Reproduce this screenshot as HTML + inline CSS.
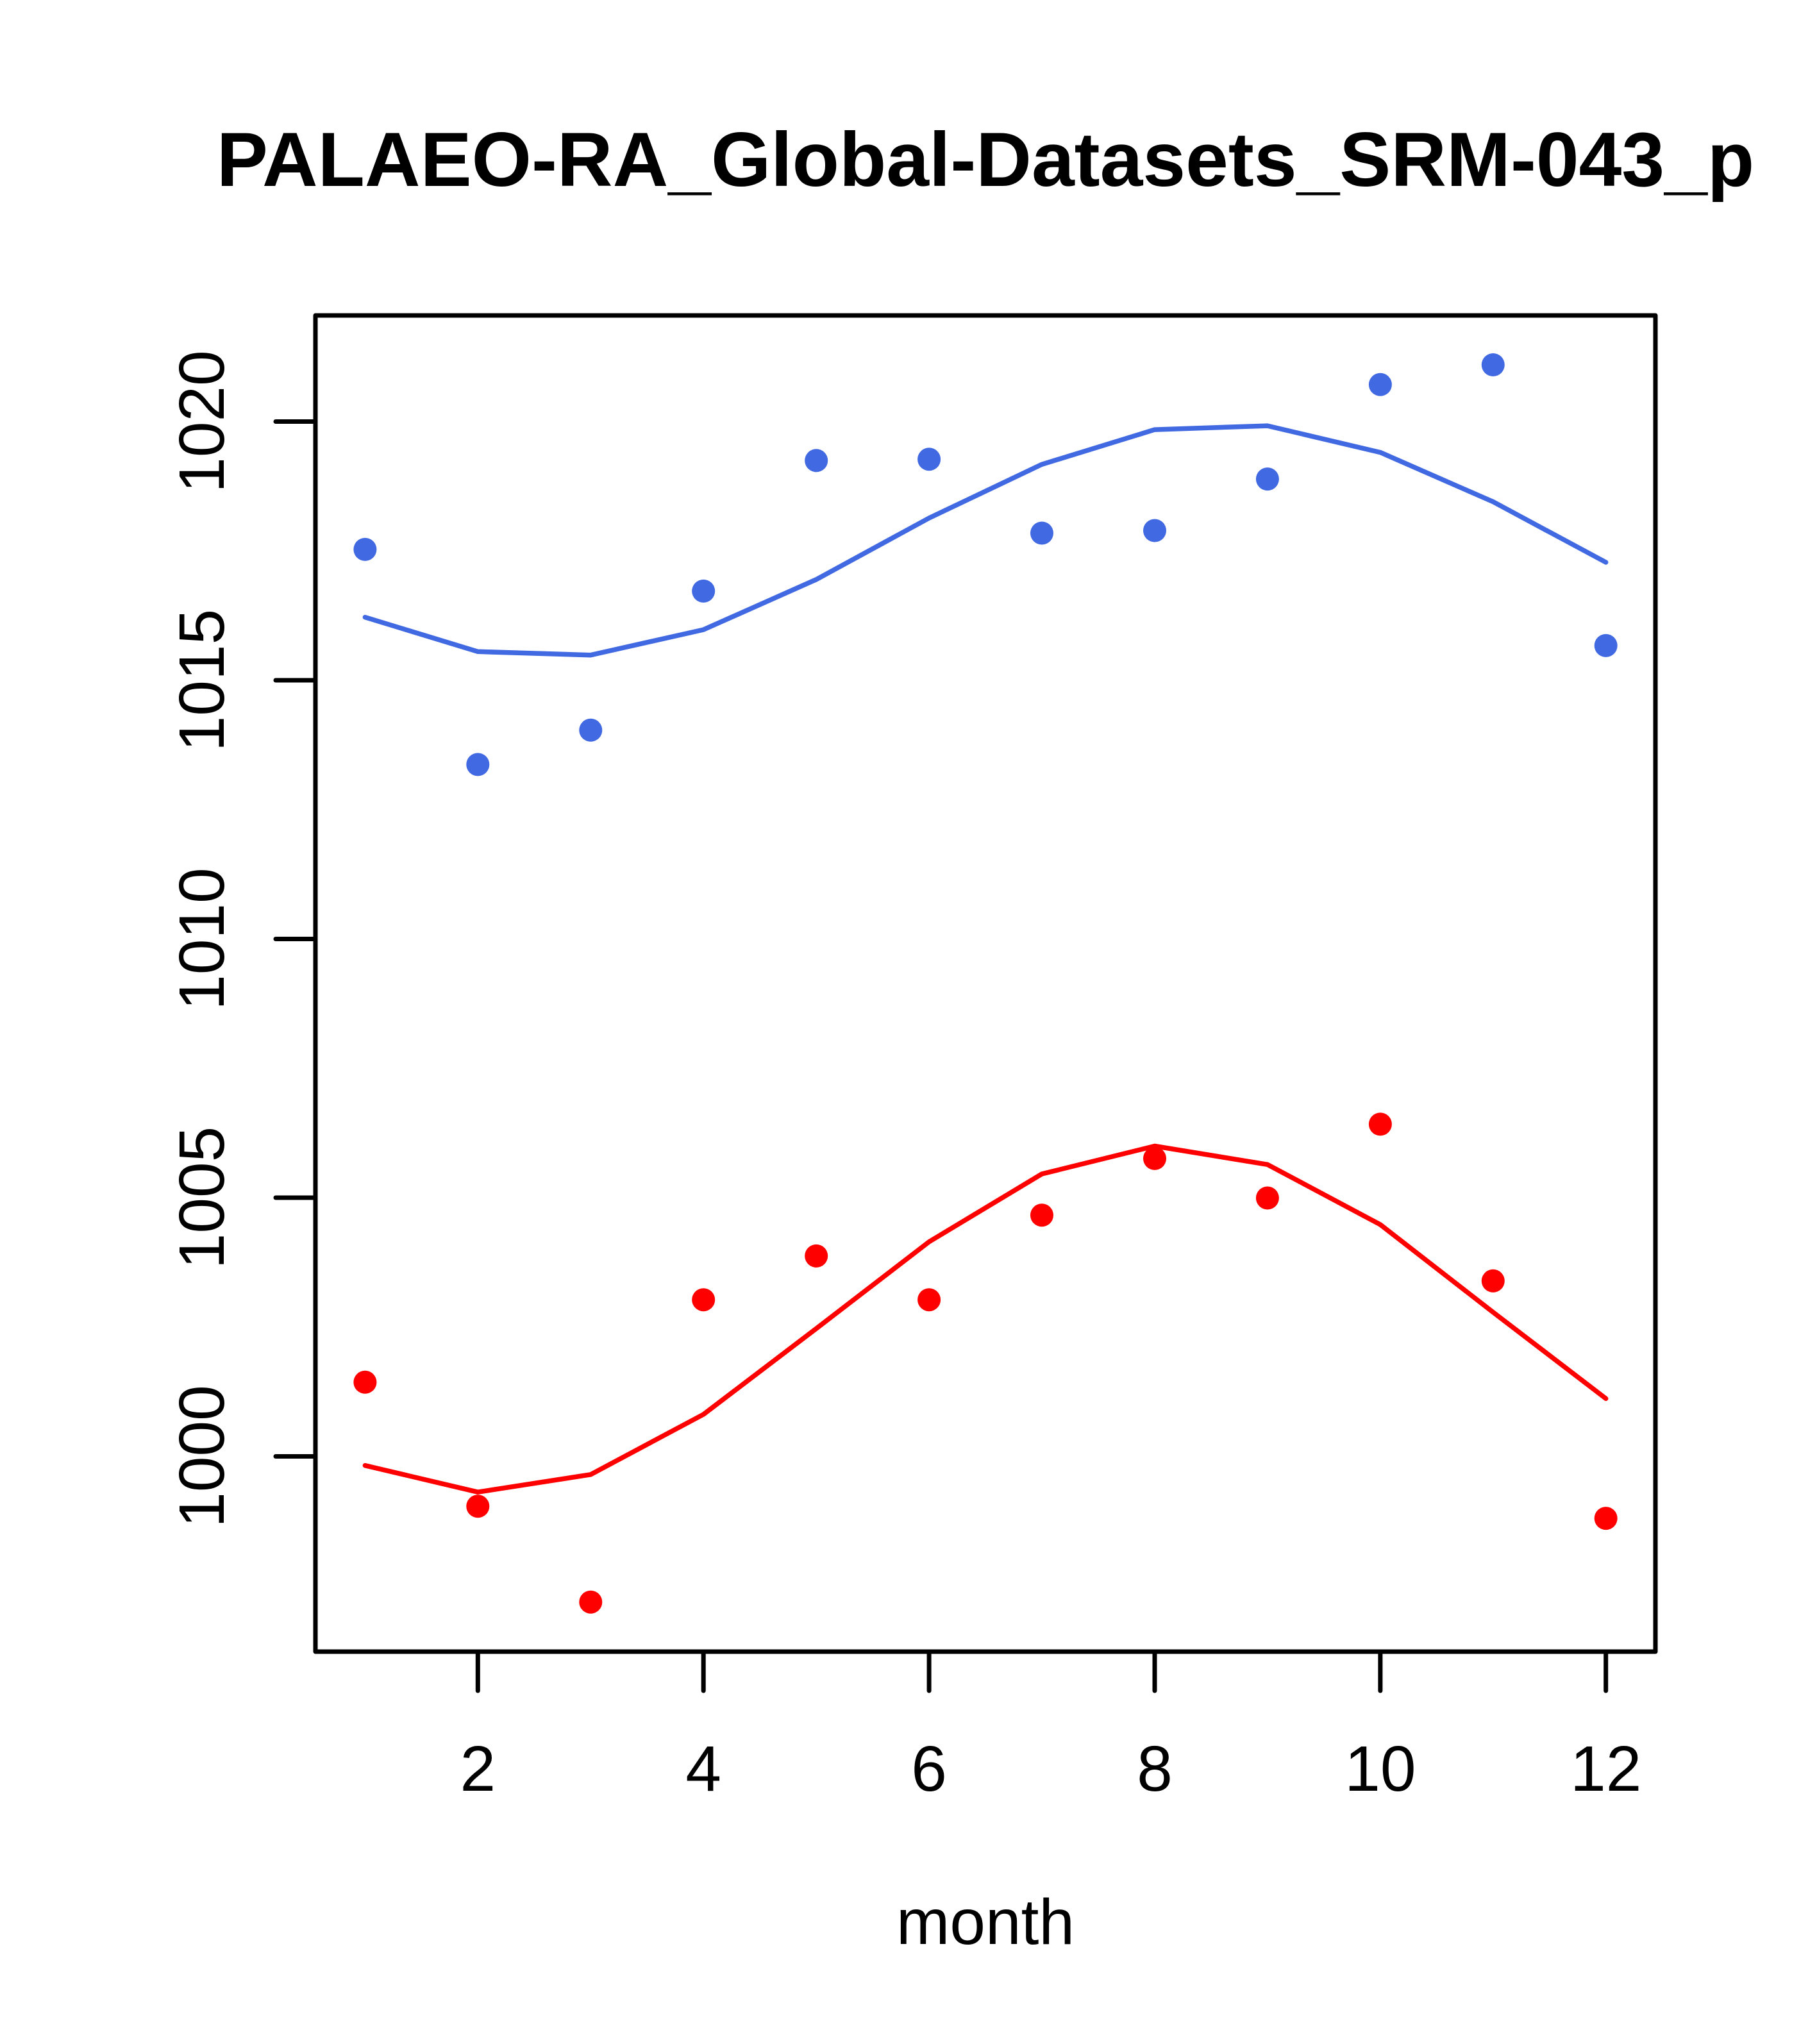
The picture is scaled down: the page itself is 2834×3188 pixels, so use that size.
<!DOCTYPE html>
<html>
<head>
<meta charset="utf-8">
<style>
  html, body { margin:0; padding:0; background:#fff; }
  svg { display:block; }
  text { font-family: "Liberation Sans", Arial, sans-serif; fill:#000; }
</style>
</head>
<body>
<svg width="2834" height="3188" viewBox="0 0 2834 3188" xmlns="http://www.w3.org/2000/svg">
  <rect x="0" y="0" width="2834" height="3188" fill="#fff"/>

  <!-- Title -->
  <text x="1537" y="290" font-size="120" font-weight="bold" text-anchor="middle">PALAEO-RA_Global-Datasets_SRM-043_p</text>

  <!-- Plot box -->
  <rect x="492" y="492" width="2090" height="2084" fill="none" stroke="#000" stroke-width="7" stroke-linejoin="round"/>

  <!-- X axis ticks -->
  <g stroke="#000" stroke-width="7" stroke-linecap="round">
    <line x1="745.3" y1="2576" x2="745.3" y2="2637"/>
    <line x1="1097.2" y1="2576" x2="1097.2" y2="2637"/>
    <line x1="1449.1" y1="2576" x2="1449.1" y2="2637"/>
    <line x1="1801" y1="2576" x2="1801" y2="2637"/>
    <line x1="2152.9" y1="2576" x2="2152.9" y2="2637"/>
    <line x1="2504.7" y1="2576" x2="2504.7" y2="2637"/>
  </g>
  <g font-size="100" text-anchor="middle">
    <text x="745.3" y="2793">2</text>
    <text x="1097.2" y="2793">4</text>
    <text x="1449.1" y="2793">6</text>
    <text x="1801" y="2793">8</text>
    <text x="2152.9" y="2793">10</text>
    <text x="2504.7" y="2793">12</text>
  </g>

  <!-- Y axis ticks -->
  <g stroke="#000" stroke-width="7" stroke-linecap="round">
    <line x1="430" y1="657.5" x2="492" y2="657.5"/>
    <line x1="430" y1="1061" x2="492" y2="1061"/>
    <line x1="430" y1="1464.5" x2="492" y2="1464.5"/>
    <line x1="430" y1="1868" x2="492" y2="1868"/>
    <line x1="430" y1="2271.5" x2="492" y2="2271.5"/>
  </g>
  <g font-size="100" text-anchor="middle">
    <text x="349" y="657.5" transform="rotate(-90 349 657.5)">1020</text>
    <text x="349" y="1061" transform="rotate(-90 349 1061)">1015</text>
    <text x="349" y="1464.5" transform="rotate(-90 349 1464.5)">1010</text>
    <text x="349" y="1868" transform="rotate(-90 349 1868)">1005</text>
    <text x="349" y="2271.5" transform="rotate(-90 349 2271.5)">1000</text>
  </g>

  <!-- X label -->
  <text x="1537" y="3032" font-size="100" text-anchor="middle">month</text>

  <!-- Blue series -->
  <polyline fill="none" stroke="#4169E1" stroke-width="7.5" stroke-linecap="round" stroke-linejoin="round"
    points="569.4,962.7 745.3,1016.3 921.3,1021.7 1097.2,982.1 1273.2,903.8 1449.1,808.0 1625.0,724.3 1801.0,670.1 1976.9,664.1 2152.9,705.6 2328.8,782.6 2504.7,877.0"/>
  <g fill="#4169E1">
    <circle cx="569.4" cy="856.9" r="18"/>
    <circle cx="745.3" cy="1192.4" r="18"/>
    <circle cx="921.3" cy="1138.8" r="18"/>
    <circle cx="1097.2" cy="921.9" r="18"/>
    <circle cx="1273.2" cy="718.3" r="18"/>
    <circle cx="1449.1" cy="716.3" r="18"/>
    <circle cx="1625.0" cy="831.5" r="18"/>
    <circle cx="1801.0" cy="827.5" r="18"/>
    <circle cx="1976.9" cy="747.1" r="18"/>
    <circle cx="2152.9" cy="599.8" r="18"/>
    <circle cx="2328.8" cy="569.0" r="18"/>
    <circle cx="2504.7" cy="1006.9" r="18"/>
  </g>

  <!-- Red series -->
  <polyline fill="none" stroke="#FF0000" stroke-width="7.5" stroke-linecap="round" stroke-linejoin="round"
    points="569.4,2285.7 745.3,2327.2 921.3,2299.8 1097.2,2206.0 1273.2,2072.1 1449.1,1936.8 1625.0,1831.0 1801.0,1787.5 1976.9,1816.3 2152.9,1910.0 2328.8,2046.7 2504.7,2181.3"/>
  <g fill="#FF0000">
    <circle cx="569.4" cy="2155.8" r="18"/>
    <circle cx="745.3" cy="2349.3" r="18"/>
    <circle cx="921.3" cy="2498.7" r="18"/>
    <circle cx="1097.2" cy="2027.2" r="18"/>
    <circle cx="1273.2" cy="1958.9" r="18"/>
    <circle cx="1449.1" cy="2027.2" r="18"/>
    <circle cx="1625.0" cy="1895.3" r="18"/>
    <circle cx="1801.0" cy="1806.9" r="18"/>
    <circle cx="1976.9" cy="1868.5" r="18"/>
    <circle cx="2152.9" cy="1753.4" r="18"/>
    <circle cx="2328.8" cy="1997.8" r="18"/>
    <circle cx="2504.7" cy="2368.1" r="18"/>
  </g>
</svg>
</body>
</html>
